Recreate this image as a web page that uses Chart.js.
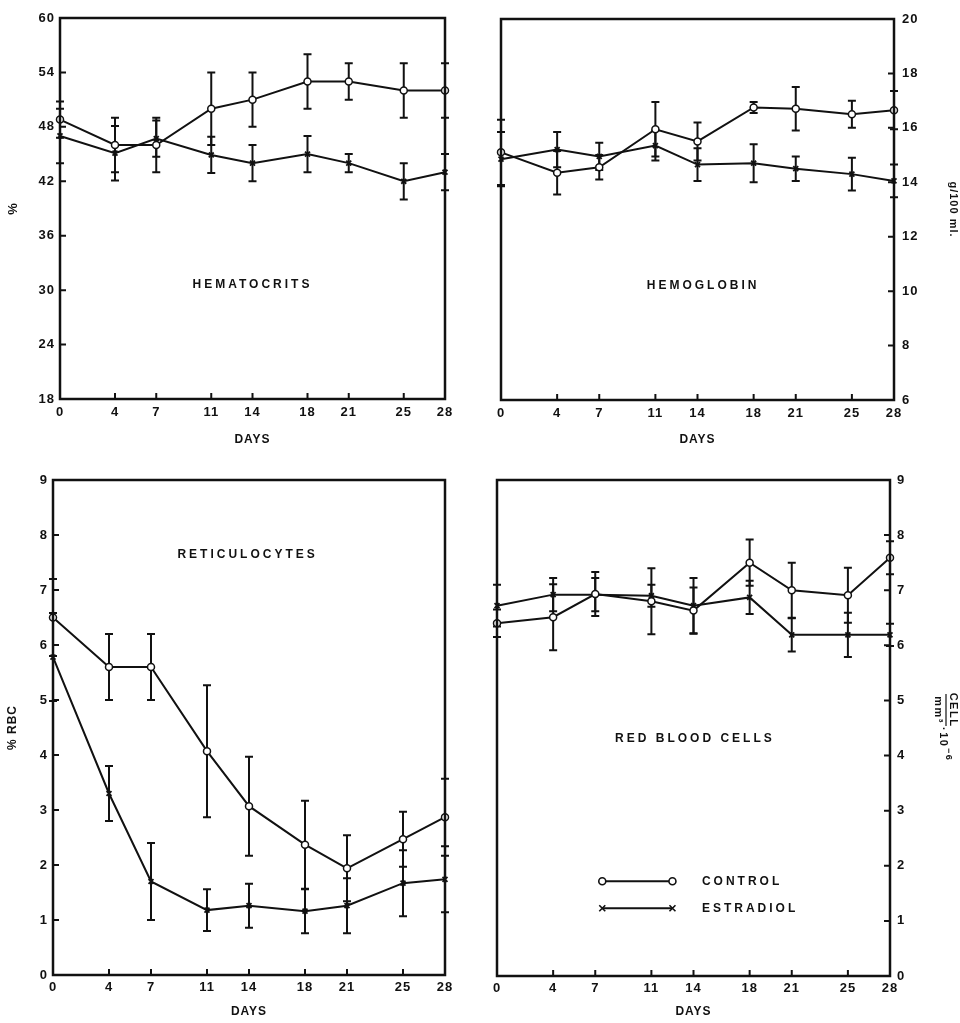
<!DOCTYPE html>
<html>
<head>
<meta charset="utf-8">
<script src="https://cdn.jsdelivr.net/npm/chart.js@4.4.0/dist/chart.umd.min.js"></script>
<style>
  body { margin: 0; background: #fff; }
  canvas { position: absolute; }
</style>
</head>
<body>
<canvas id="hct" width="480" height="460" style="left:0;top:0"></canvas>
<canvas id="hgb" width="480" height="460" style="left:480px;top:0"></canvas>
<canvas id="ret" width="480" height="563" style="left:0;top:460px"></canvas>
<canvas id="rbc" width="480" height="563" style="left:480px;top:460px"></canvas>
<script>
// days of sampling (x axis)
const days = [0, 4, 7, 11, 14, 18, 21, 25, 28];

// hematocrits, %
const hctControl = [48.8, 46, 46, 50, 51, 53, 53, 52, 52];
const hctControlErr = [2, 3, 3, 4, 3, 3, 2, 3, 3];
const hctEstradiol = [47, 45.1, 46.7, 44.9, 44, 45, 44, 42, 43];
const hctEstradiolErr = [3, 3, 2, 2, 2, 2, 1, 2, 2];

// hemoglobin, g/100 ml
const hgbControl = [15.1, 14.35, 14.55, 15.95, 15.5, 16.75, 16.7, 16.5, 16.65];
const hgbControlErr = [1.2, 0.8, 0.45, 1.0, 0.7, 0.2, 0.8, 0.5, 0.7];
const hgbEstradiol = [14.85, 15.2, 14.95, 15.35, 14.65, 14.7, 14.5, 14.3, 14.05];
const hgbEstradiolErr = [1.0, 0.65, 0.5, 0.55, 0.6, 0.7, 0.45, 0.6, 0.6];

// reticulocytes, % RBC
const retControl = [6.5, 5.6, 5.6, 4.07, 3.07, 2.37, 1.94, 2.47, 2.87];
const retControlErr = [0.7, 0.6, 0.6, 1.2, 0.9, 0.8, 0.6, 0.5, 0.7];
const retEstradiol = [5.78, 3.3, 1.7, 1.18, 1.26, 1.16, 1.26, 1.67, 1.74];
const retEstradiolErr = [0.8, 0.5, 0.7, 0.38, 0.4, 0.4, 0.5, 0.6, 0.6];

// red blood cells, cells/mm3 x 10^-6
const rbcControl = [6.4, 6.51, 6.93, 6.8, 6.63, 7.5, 7.0, 6.91, 7.59];
const rbcControlErr = [0.25, 0.6, 0.4, 0.6, 0.42, 0.42, 0.5, 0.5, 0.3];
const rbcEstradiol = [6.72, 6.92, 6.92, 6.9, 6.72, 6.87, 6.19, 6.19, 6.19];
const rbcEstradiolErr = [0.38, 0.3, 0.3, 0.2, 0.5, 0.3, 0.3, 0.4, 0.2];

const FONT = "'Liberation Sans', Arial, sans-serif";
const INK = '#111';

function points(vals) {
  return days.map((d, i) => ({ x: d, y: vals[i] }));
}

function series(label, vals, errs, style) {
  return {
    label: label,
    data: points(vals),
    errors: errs,
    borderColor: INK,
    borderWidth: 2,
    pointStyle: style,
    pointRadius: 3.5,
    pointBorderWidth: style === 'circle' ? 1.5 : 1.8,
    pointBackgroundColor: '#fff',
    pointBorderColor: INK,
    tension: 0,
    clip: false
  };
}

function drawMarker(ctx, style, x, y) {
  ctx.beginPath();
  if (style === 'circle') {
    ctx.arc(x, y, 3.5, 0, Math.PI * 2);
    ctx.fillStyle = '#fff';
    ctx.fill();
  } else {
    ctx.moveTo(x - 3, y - 3); ctx.lineTo(x + 3, y + 3);
    ctx.moveTo(x + 3, y - 3); ctx.lineTo(x - 3, y + 3);
  }
  ctx.stroke();
}

// error bars, frame, inward ticks and the text inside the panels
const framePlugin = {
  id: 'frame',
  beforeDraw(chart) {
    chart.ctx.letterSpacing = '1px';
  },
  beforeDatasetsDraw(chart) {
    const ctx = chart.ctx, x = chart.scales.x, y = chart.scales.y;
    ctx.save();
    ctx.strokeStyle = INK;
    ctx.lineWidth = 2;
    chart.data.datasets.forEach(ds => {
      ds.data.forEach((p, i) => {
        const e = ds.errors[i];
        const px = x.getPixelForValue(p.x);
        const t = y.getPixelForValue(p.y + e);
        const b = y.getPixelForValue(p.y - e);
        ctx.beginPath();
        ctx.moveTo(px, t); ctx.lineTo(px, b);
        ctx.moveTo(px - 4, t); ctx.lineTo(px + 4, t);
        ctx.moveTo(px - 4, b); ctx.lineTo(px + 4, b);
        ctx.stroke();
      });
    });
    ctx.restore();
  },
  afterDraw(chart, args, opts) {
    const ctx = chart.ctx, x = chart.scales.x, y = chart.scales.y;
    const a = chart.chartArea;
    ctx.save();
    ctx.strokeStyle = INK;
    ctx.lineWidth = 2.5;
    ctx.strokeRect(a.left, a.top, a.right - a.left, a.bottom - a.top);

    ctx.lineWidth = 2;
    ctx.beginPath();
    days.forEach(d => {
      const px = x.getPixelForValue(d);
      ctx.moveTo(px, a.bottom); ctx.lineTo(px, a.bottom - 6);
    });
    y.ticks.forEach(t => {
      const py = y.getPixelForValue(t.value);
      if (opts.side === 'right') {
        ctx.moveTo(a.right, py); ctx.lineTo(a.right - 6, py);
      } else {
        ctx.moveTo(a.left, py); ctx.lineTo(a.left + 6, py);
      }
    });
    ctx.stroke();

    ctx.fillStyle = INK;
    ctx.font = 'bold 12px ' + FONT;
    ctx.letterSpacing = '3px';
    ctx.textAlign = 'center';
    ctx.textBaseline = 'middle';
    ctx.fillText(opts.label, x.getPixelForValue(opts.labelAt[0]), y.getPixelForValue(opts.labelAt[1]));

    if (opts.legend) {
      const x1 = x.getPixelForValue(7.5), x2 = x.getPixelForValue(12.5);
      const tx = x.getPixelForValue(14.6);
      [['circle', 'CONTROL', 1.72], ['cross', 'ESTRADIOL', 1.23]].forEach(item => {
        const py = y.getPixelForValue(item[2]);
        ctx.lineWidth = 2;
        ctx.beginPath();
        ctx.moveTo(x1, py); ctx.lineTo(x2, py);
        ctx.stroke();
        ctx.lineWidth = 1.6;
        drawMarker(ctx, item[0], x1, py);
        drawMarker(ctx, item[0], x2, py);
        ctx.fillStyle = INK;
        ctx.textAlign = 'left';
        ctx.fillText(item[1], tx, py);
      });
    }

    if (opts.unit) {
      // CELL / mm3 . 10^-6, rotated to read downwards
      ctx.translate(chart.width - 14, (a.top + a.bottom) / 2 - 18);
      ctx.rotate(Math.PI / 2);
      ctx.letterSpacing = '1.5px';
      ctx.font = 'bold 11px ' + FONT;
      ctx.textAlign = 'center';
      ctx.fillText('CELL', 0, -7);
      ctx.lineWidth = 1.2;
      ctx.beginPath();
      ctx.moveTo(-16, 0); ctx.lineTo(16, 0);
      ctx.stroke();
      ctx.fillText('mm\u00b3', 0, 8);
      ctx.textAlign = 'left';
      ctx.fillText('\u00b710', 17, 3);
      ctx.font = 'bold 9px ' + FONT;
      ctx.fillText('\u22126', 38, -2);
    }
    ctx.restore();
  }
};

function makeChart(id, c) {
  const tickFont = { family: FONT, size: 13, weight: 'bold' };
  return new Chart(document.getElementById(id), {
    type: 'line',
    data: {
      datasets: [
        series('CONTROL', c.control, c.controlErr, 'circle'),
        series('ESTRADIOL', c.estradiol, c.estradiolErr, 'crossRot')
      ]
    },
    options: {
      responsive: false,
      animation: false,
      layout: { padding: c.padding },
      plugins: {
        legend: { display: false },
        tooltip: { enabled: false },
        frame: { label: c.label, labelAt: c.labelAt, side: c.side, legend: c.legend, unit: c.unit }
      },
      scales: {
        x: {
          type: 'linear',
          min: 0,
          max: 28,
          grid: { display: false, drawTicks: false },
          border: { display: false },
          afterBuildTicks: s => { s.ticks = days.map(v => ({ value: v })); },
          afterFit: s => { s.height = c.xHeight; },
          ticks: { padding: c.xPad, font: tickFont, color: INK, maxRotation: 0, autoSkip: false },
          title: {
            display: true,
            text: 'DAYS',
            color: INK,
            font: { family: FONT, size: 12, weight: 'bold' },
            padding: { top: 0, bottom: c.daysPad }
          }
        },
        y: {
          position: c.side,
          min: c.min,
          max: c.max,
          grid: { display: false, drawTicks: false },
          border: { display: false },
          afterFit: s => { s.width = c.yWidth; },
          ticks: { stepSize: c.step, padding: c.yPad, font: tickFont, color: INK, autoSkip: false },
          title: {
            display: !!c.yTitle,
            text: c.yTitle,
            color: INK,
            font: { family: FONT, size: c.yTitleSize, weight: 'bold' },
            padding: { top: c.yTitlePad, bottom: 0 }
          }
        }
      }
    },
    plugins: [framePlugin]
  });
}

makeChart('hct', {
  control: hctControl, controlErr: hctControlErr,
  estradiol: hctEstradiol, estradiolErr: hctEstradiolErr,
  min: 18, max: 60, step: 6, side: 'left',
  padding: { left: 0, right: 35, top: 18, bottom: 0 },
  yWidth: 60, xHeight: 61, xPad: 6, daysPad: 13, yPad: 5,
  yTitle: '%', yTitleSize: 13, yTitlePad: 6,
  label: 'HEMATOCRITS', labelAt: [14, 30.6]
});

makeChart('hgb', {
  control: hgbControl, controlErr: hgbControlErr,
  estradiol: hgbEstradiol, estradiolErr: hgbEstradiolErr,
  min: 6, max: 20, step: 2, side: 'right',
  padding: { left: 21, right: 0, top: 19, bottom: 0 },
  yWidth: 66, xHeight: 60, xPad: 6, daysPad: 13, yPad: 8,
  yTitle: 'g/100 ml.', yTitleSize: 11, yTitlePad: 0,
  label: 'HEMOGLOBIN', labelAt: [14.4, 10.2]
});

makeChart('ret', {
  control: retControl, controlErr: retControlErr,
  estradiol: retEstradiol, estradiolErr: retEstradiolErr,
  min: 0, max: 9, step: 1, side: 'left',
  padding: { left: 0, right: 35, top: 20, bottom: 0 },
  yWidth: 53, xHeight: 48, xPad: 5, daysPad: 4, yPad: 5,
  yTitle: '% RBC', yTitleSize: 12, yTitlePad: 5,
  label: 'RETICULOCYTES', labelAt: [13.9, 7.65]
});

makeChart('rbc', {
  control: rbcControl, controlErr: rbcControlErr,
  estradiol: rbcEstradiol, estradiolErr: rbcEstradiolErr,
  min: 0, max: 9, step: 1, side: 'right',
  padding: { left: 17, right: 0, top: 20, bottom: 0 },
  yWidth: 70, xHeight: 47, xPad: 5, daysPad: 4, yPad: 7,
  yTitle: '', yTitleSize: 11, yTitlePad: 0,
  label: 'RED BLOOD CELLS', labelAt: [14.1, 4.3],
  legend: true, unit: true
});
</script>
</body>
</html>
